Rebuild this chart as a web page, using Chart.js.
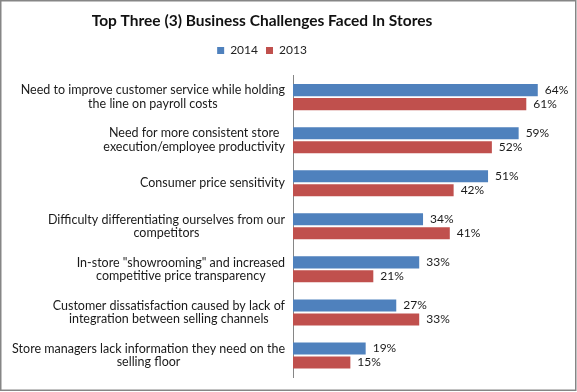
<!DOCTYPE html>
<html>
<head>
<meta charset="utf-8">
<script src="https://cdn.jsdelivr.net/npm/chart.js@4/dist/chart.umd.min.js"></script>
<style>
  html, body { margin: 0; padding: 0; background: #fff; }
  #wrap { width: 577px; height: 392px; position: relative; }
</style>
</head>
<body>
<div id="wrap"><canvas id="c" width="577" height="392"></canvas></div>
<script>
const categories = [
  ["Need to improve customer service while holding", "the line on payroll costs"],
  ["Need for more consistent store", "execution/employee productivity"],
  ["Consumer price sensitivity"],
  ["Difficulty differentiating ourselves from our", "competitors"],
  ["In-store \"showrooming\" and increased", "competitive price transparency"],
  ["Customer dissatisfaction caused by lack of", "integration between selling channels"],
  ["Store managers lack information they need on the", "selling floor"]
];
const values2014 = [64, 59, 51, 34, 33, 27, 19];
const values2013 = [61, 52, 42, 41, 21, 33, 15];
const seriesNames = ["2014", "2013"];
const titleText = "Top Three (3) Business Challenges Faced In Stores";

const FONT = "Lato, 'Open Sans', sans-serif";

const borderPlugin = {
  id: 'frame',
  afterInit(chart) {
    if (chart.legend) {
      const orig = chart.legend.fit;
      chart.legend.fit = function () { orig.call(this); this.height += 9; };
    }
  },
  afterDraw(chart) {
    const ctx = chart.ctx;
    ctx.save();
    ctx.strokeStyle = '#868686';
    ctx.lineWidth = 1.5;
    ctx.strokeRect(0.75, 0.75, 575, 389.5);
    ctx.restore();
  }
};

const catLabelPlugin = {
  id: 'catLabels',
  afterDraw(chart) {
    const ctx = chart.ctx;
    const ys = chart.scales.y;
    ctx.save();
    ctx.font = "12.5px " + FONT;
    ctx.fillStyle = '#1a1a1a';
    ctx.textBaseline = 'middle';
    ctx.textAlign = 'center';
    const right = chart.chartArea.left - 8;
    const lh = 13.5;
    categories.forEach((lines, i) => {
      const y = ys.getPixelForValue(i);
      const maxW = Math.max(...lines.map(l => ctx.measureText(l).width));
      const cx = right - maxW / 2;
      lines.forEach((l, j) => {
        ctx.fillText(l, cx, y + (j - (lines.length - 1) / 2) * lh);
      });
    });
    ctx.restore();
  }
};

const valueLabelPlugin = {
  id: 'valLabels',
  afterDatasetsDraw(chart) {
    const ctx = chart.ctx;
    ctx.save();
    ctx.font = "12px " + FONT;
    ctx.fillStyle = '#1a1a1a';
    ctx.textBaseline = 'middle';
    ctx.textAlign = 'left';
    chart.data.datasets.forEach((ds, di) => {
      const meta = chart.getDatasetMeta(di);
      meta.data.forEach((bar, i) => {
        ctx.fillText(ds.data[i] + '%', bar.x + 7, bar.y);
      });
    });
    ctx.restore();
  }
};

new Chart(document.getElementById('c'), {
  type: 'bar',
  data: {
    labels: categories,
    datasets: [
      { label: seriesNames[0], data: values2014, backgroundColor: '#4F81BD',
        categoryPercentage: 0.65, barPercentage: 0.86, clip: false },
      { label: seriesNames[1], data: values2013, backgroundColor: '#C0504D',
        categoryPercentage: 0.65, barPercentage: 0.86, clip: false }
    ]
  },
  options: {
    indexAxis: 'y',
    responsive: false,
    animation: false,
    layout: { padding: { left: 0, right: 53, top: 8, bottom: 15 } },
    plugins: {
      title: {
        display: true, text: titleText, color: '#111',
        font: { family: FONT, size: 15.5, weight: 'bold' },
        padding: { top: 4, bottom: 6 }
      },
      legend: {
        display: true, position: 'top',
        labels: {
          boxWidth: 7, boxHeight: 7, color: '#222',
          font: { family: FONT, size: 12 }, padding: 8
        }
      },
      tooltip: { enabled: false }
    },
    scales: {
      x: { display: false, min: 0, max: 60.4 },
      y: {
        grid: { display: false, drawTicks: false },
        border: { display: true, color: '#868686', width: 1 },
        ticks: { display: false },
        afterFit(scale) { scale.width = 293; }
      }
    }
  },
  plugins: [borderPlugin, catLabelPlugin, valueLabelPlugin]
});
</script>
</body>
</html>
